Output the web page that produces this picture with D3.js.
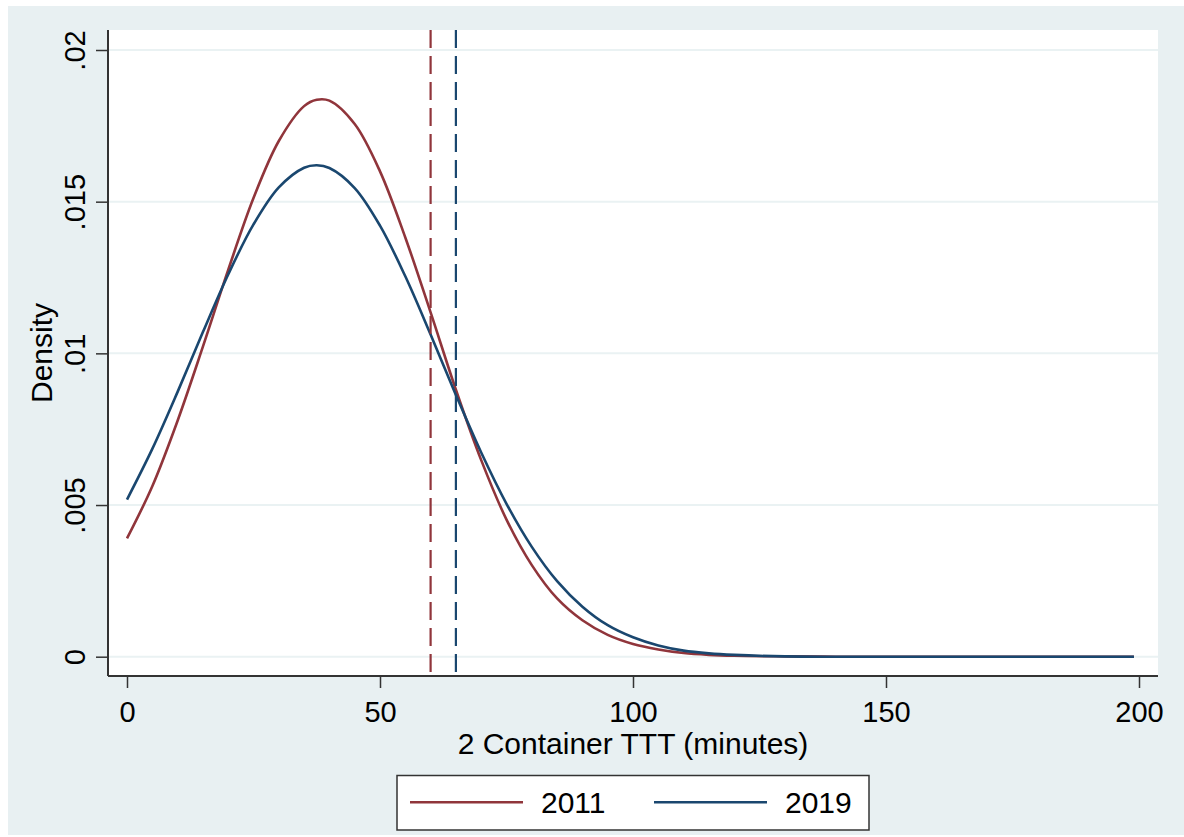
<!DOCTYPE html>
<meta charset="utf-8">
<style>
body {
  margin: 0;
  background: #fff;
}
svg text {
  font-family: "Liberation Sans", Arial, sans-serif;
  fill: #000;
}
</style>
<body>
<svg id="chart" width="1184" height="837"></svg>
<script src="https://cdn.jsdelivr.net/npm/d3@7"></script>
<script>

var minutes = [0, 5, 10, 15, 20, 25, 30, 35, 37.5, 40, 45, 50, 55, 60, 65, 70, 75, 80, 85, 90, 95,
               100, 105, 110, 115, 120, 130, 140, 150, 160, 170, 180, 190, 199];

var density2011 = [0.00390, 0.00562, 0.00778, 0.01022, 0.01275, 0.01512, 0.01700, 0.01815, 0.01836, 0.01833,
                   0.01756, 0.01600, 0.01382, 0.01135, 0.00880, 0.00648, 0.00452, 0.00302, 0.00192,
                   0.00120, 0.00072, 0.00042, 0.00024, 0.00012, 0.00006, 0.00003, 0.00001, 0,
                   0, 0, 0, 0, 0, 0];

var density2019 = [0.00518, 0.00685, 0.00873, 0.01070, 0.01260, 0.01425, 0.01547, 0.01612, 0.01620, 0.01611,
                   0.01545, 0.01421, 0.01254, 0.01062, 0.00863, 0.00673, 0.00504, 0.00362, 0.00249,
                   0.00165, 0.00104, 0.00064, 0.00037, 0.00020, 0.00011, 0.00006, 0.00001, 0,
                   0, 0, 0, 0, 0, 0];

// mean TTT lines
var meanLines = [{key: "2011", value: 60}, {key: "2019", value: 65}];

var seriesNames = ["2011", "2019"];
var xTicks = [0, 50, 100, 150, 200];
var yTicks = [0, 0.005, 0.01, 0.015, 0.02];
var yTickLabels = ["0", ".005", ".01", ".015", ".02"];

var color = d3.scaleOrdinal()
    .domain(seriesNames)
    .range(["#90353b", "#1a476f"]);

var svg = d3.select("#chart");

var plot = {left: 108, right: 1158, top: 30, bottom: 676};

var x = d3.scaleLinear().domain([0, 200]).range([127, 1139]),
    y = d3.scaleLinear().domain([0, 0.02]).range([656.7, 50]);

// graph region
svg.append("rect")
    .attr("x", 8).attr("y", 6)
    .attr("width", 1176).attr("height", 829)
    .attr("fill", "#e8f0f2");

// plot region
svg.append("rect")
    .attr("x", plot.left).attr("y", plot.top)
    .attr("width", plot.right - plot.left).attr("height", plot.bottom - plot.top)
    .attr("fill", "#fff");

// gridlines
svg.append("g")
    .selectAll("line")
    .data(yTicks)
  .enter().append("line")
    .attr("x1", plot.left).attr("x2", plot.right)
    .attr("y1", function(d) { return y(d); })
    .attr("y2", function(d) { return y(d); })
    .attr("stroke", "#eaf2f3")
    .attr("stroke-width", 2);

var series = seriesNames.map(function(name) {
  var vals = name === "2011" ? density2011 : density2019;
  return {key: name, values: minutes.map(function(m, i) { return {x: m, y: vals[i]}; })};
});

var line = d3.line()
    .curve(d3.curveCatmullRom.alpha(0.5))
    .x(function(d) { return x(d.x); })
    .y(function(d) { return y(d.y); });

svg.append("g")
    .selectAll("path")
    .data(series)
  .enter().append("path")
    .attr("d", function(d) { return line(d.values); })
    .attr("fill", "none")
    .attr("stroke", function(d) { return color(d.key); })
    .attr("stroke-width", 2.6);

svg.append("g")
    .selectAll("line")
    .data(meanLines)
  .enter().append("line")
    .attr("x1", function(d) { return x(d.value); })
    .attr("x2", function(d) { return x(d.value); })
    .attr("y1", plot.top)
    .attr("y2", plot.bottom)
    .attr("stroke", function(d) { return color(d.key); })
    .attr("stroke-width", 2.2)
    .attr("stroke-dasharray", "18,8");

// axes
var xAxis = svg.append("g")
    .attr("transform", "translate(0," + plot.bottom + ")")
    .call(d3.axisBottom(x).tickValues(xTicks).tickSize(12).tickPadding(8).tickFormat(d3.format("d")));
xAxis.select(".domain").attr("d", "M" + plot.left + ",0H" + plot.right);

var yAxis = svg.append("g")
    .attr("transform", "translate(" + plot.left + ",0)")
    .call(d3.axisLeft(y).tickValues(yTicks).tickSize(12)
      .tickFormat(function(d, i) { return yTickLabels[i]; }));
yAxis.select(".domain").attr("d", "M0," + plot.top + "V" + plot.bottom);

svg.selectAll(".domain").attr("stroke", "#333").attr("stroke-width", 2);
svg.selectAll(".tick line").attr("stroke", "#333").attr("stroke-width", 1.5);
svg.selectAll(".tick text").attr("font-size", 29).attr("fill", "#000");

xAxis.selectAll(".tick text")
    .attr("y", 0).attr("dy", 0)
    .attr("transform", "translate(0,45.5)");

yAxis.selectAll(".tick text")
    .attr("x", 0).attr("dy", 0)
    .attr("text-anchor", "middle")
    .attr("transform", "translate(-23,0) rotate(-90)");

svg.append("text")
    .attr("x", (plot.left + plot.right) / 2)
    .attr("y", 753.5)
    .attr("text-anchor", "middle")
    .attr("font-size", 30)
    .text("2 Container TTT (minutes)");

svg.append("text")
    .attr("transform", "translate(52," + (plot.top + plot.bottom) / 2 + ") rotate(-90)")
    .attr("text-anchor", "middle")
    .attr("font-size", 30)
    .text("Density");

// legend
var legend = svg.append("g");
legend.append("rect")
    .attr("x", 397).attr("y", 775.5)
    .attr("width", 472).attr("height", 54.5)
    .attr("fill", "#fff")
    .attr("stroke", "#333")
    .attr("stroke-width", 1.5);

var item = legend.selectAll(".item")
    .data(seriesNames)
  .enter().append("g")
    .attr("class", "item")
    .attr("transform", function(d, i) { return "translate(" + (410 + i * 244) + ",802.3)"; });

item.append("line")
    .attr("x1", 0).attr("x2", 113)
    .attr("stroke", function(d) { return color(d); })
    .attr("stroke-width", 2.6);

item.append("text")
    .attr("x", 131)
    .attr("y", 11)
    .attr("font-size", 30)
    .text(function(d) { return d; });

</script>
</body>
